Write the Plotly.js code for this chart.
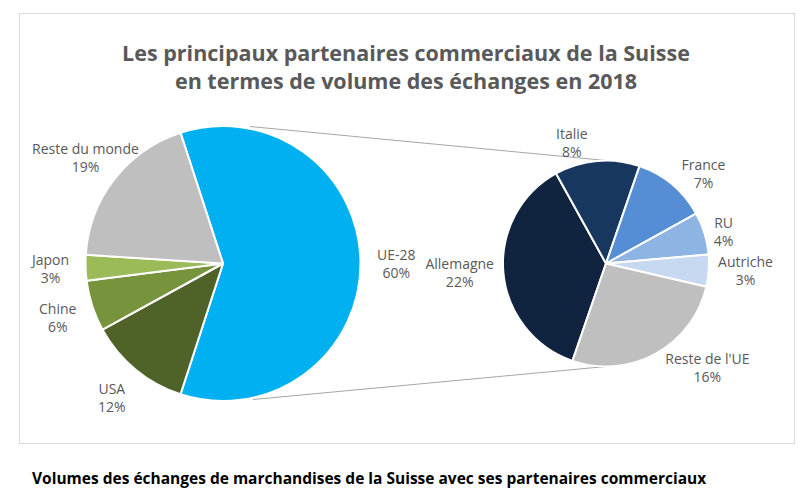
<!DOCTYPE html>
<html>
<head>
<meta charset="utf-8">
<script src="https://cdn.plot.ly/plotly-3.0.1.min.js"></script>
<style>
  body { margin: 0; background: #fff; }
  #plot { width: 812px; height: 495px; }
</style>
</head>
<body>
<div id="plot"></div>
<script>
// main pie: share of trade volume (%)
const worldLabels = ['UE-28', 'USA', 'Chine', 'Japon', 'Reste du monde'];
const worldValues = [60, 12, 6, 3, 19];
const worldColors = ['#00B0F0', '#4F6228', '#77933C', '#9BBB59', '#BFBFBF'];

// secondary pie: breakdown of UE-28 (%)
const euLabels = ['Allemagne', 'Italie', 'France', 'RU', 'Autriche', "Reste de l'UE"];
const euValues = [22, 8, 7, 4, 3, 16];
const euColors = ['#10243F', '#17375E', '#558ED5', '#8EB4E3', '#C6D9F1', '#BFBFBF'];

const W = 812, H = 495;
const px = x => x / W;
const py = y => 1 - y / H;

// pie geometry in pixels
const big = { cx: 223, cy: 263.5, r: 137.5, rot: -18 };
const small = { cx: 606, cy: 263.5, r: 103, rot: -161 };

const labelFont = { family: 'Open Sans, sans-serif', size: 14, color: '#595959' };

const world = {
    type: 'pie',
    labels: worldLabels,
    values: worldValues,
    sort: false,
    direction: 'clockwise',
    rotation: big.rot,
    marker: { colors: worldColors, line: { color: '#ffffff', width: 2 } },
    textinfo: 'none',
    domain: { x: [px(big.cx - big.r), px(big.cx + big.r)], y: [py(big.cy + big.r), py(big.cy - big.r)] },
    hoverinfo: 'skip',
    automargin: false,
};

const eu = {
    type: 'pie',
    labels: euLabels,
    values: euValues,
    sort: false,
    direction: 'clockwise',
    rotation: small.rot,
    marker: { colors: euColors, line: { color: '#ffffff', width: 2 } },
    texttemplate: '%{label}<br>%{value}%',
    textposition: 'outside',
    outsidetextfont: labelFont,
    domain: { x: [px(small.cx - small.r), px(small.cx + small.r)], y: [py(small.cy + small.r), py(small.cy - small.r)] },
    hoverinfo: 'skip',
    automargin: false,
};

// labels of the main pie, placed on each slice's bisector
const total = worldValues.reduce((a, b) => a + b, 0);
let start = big.rot;
const worldNotes = worldValues.map((v, i) => {
    const mid = (start + v / total * 180) * Math.PI / 180;
    start += v / total * 360;
    const d = big.r + 36;
    return {
        text: worldLabels[i] + '<br>' + v + '%',
        xref: 'paper', yref: 'paper',
        x: px(big.cx + d * Math.sin(mid)), y: py(big.cy - d * Math.cos(mid)),
        xanchor: 'center', yanchor: 'middle',
        showarrow: false, font: labelFont,
    };
});

const layout = {
    width: W,
    height: H,
    margin: { l: 0, r: 0, t: 0, b: 0 },
    showlegend: false,
    paper_bgcolor: '#ffffff',
    title: {
        text: '<b>Les principaux partenaires commerciaux de la Suisse<br>en termes de volume des échanges en 2018</b>',
        font: { family: 'Open Sans, sans-serif', size: 21.5, color: '#595959' },
        x: px(406),
        xanchor: 'center',
        y: py(61),
        yanchor: 'middle',
    },
    shapes: [
        { type: 'rect', xref: 'paper', yref: 'paper', x0: px(19.5), x1: px(794.5), y0: py(443.5), y1: py(13.5),
          line: { color: '#D9D9D9', width: 1 } },
        { type: 'line', xref: 'paper', yref: 'paper', x0: px(250), y0: py(126.5), x1: px(606), y1: py(160.5),
          line: { color: '#A6A6A6', width: 1 }, layer: 'below' },
        { type: 'line', xref: 'paper', yref: 'paper', x0: px(253), y0: py(399.5), x1: px(606), y1: py(366.5),
          line: { color: '#A6A6A6', width: 1 }, layer: 'below' },
    ],
    annotations: worldNotes.concat([
        { text: '<b>Volumes des échanges de marchandises de la Suisse avec ses partenaires commerciaux</b>',
          xref: 'paper', yref: 'paper', x: px(30), y: py(478), xanchor: 'left', yanchor: 'middle',
          showarrow: false, font: { family: 'Open Sans, sans-serif', size: 15.5, color: '#000000' } },
    ]),
};

Plotly.newPlot('plot', [world, eu], layout, { staticPlot: true });
</script>
</body>
</html>
